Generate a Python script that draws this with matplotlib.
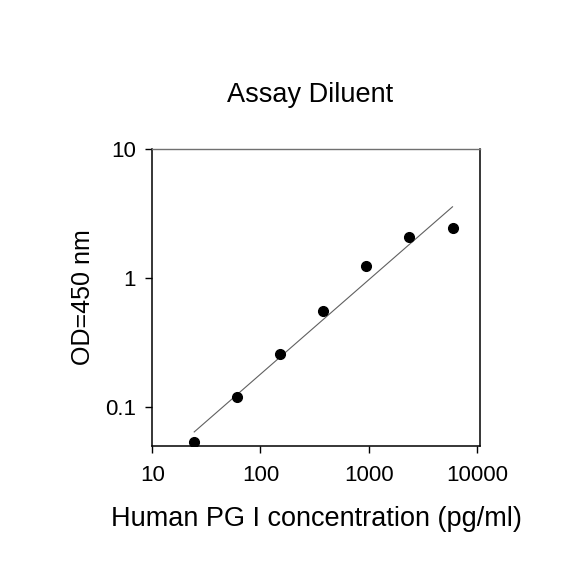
import numpy as np
import matplotlib
matplotlib.use("Agg")
import matplotlib.pyplot as plt
from matplotlib.ticker import FixedLocator, NullLocator, FixedFormatter

plt.rcParams['font.family'] = ['Liberation Sans', 'DejaVu Sans']

# Data
concentration = [24.4, 61.0, 152.6, 381.5, 953.7, 2384.0, 5960.0]   # pg/ml
od450 = [0.054, 0.119, 0.256, 0.553, 1.23, 2.09, 2.45]

x_ticks = [10, 100, 1000, 10000]
x_tick_labels = ["10", "100", "1000", "10000"]
y_ticks = [0.1, 1, 10]
y_tick_labels = ["0.1", "1", "10"]

title = "Assay Diluent"
xlabel = "Human PG I concentration (pg/ml)"
ylabel = "OD=450 nm"

fig = plt.figure(figsize=(5.84, 5.84), dpi=100)
ax = fig.add_axes([0.2608, 0.2368, 0.5611, 0.5081])

ax.set_xscale('log')
ax.set_yscale('log')

# log-log linear regression line
lx = np.log10(concentration)
ly = np.log10(od450)
slope, intercept = np.polyfit(lx, ly, 1)
fx = np.array([lx.min(), lx.max()])
ax.plot(10 ** fx, 10 ** (intercept + slope * fx), color='#606060', lw=0.8, zorder=2)

ax.plot(concentration, od450, 'o', color='black', ms=7, zorder=3)

ax.set_xlim(10, 10700)
ax.set_ylim(0.0502, 10)

ax.xaxis.set_major_locator(FixedLocator(x_ticks))
ax.xaxis.set_major_formatter(FixedFormatter(x_tick_labels))
ax.xaxis.set_minor_locator(NullLocator())
ax.yaxis.set_major_locator(FixedLocator(y_ticks))
ax.yaxis.set_major_formatter(FixedFormatter(y_tick_labels))
ax.yaxis.set_minor_locator(NullLocator())

ax.tick_params(axis='both', direction='out', length=5, width=1, labelsize=16, color='black')
ax.tick_params(axis='x', pad=9)
ax.tick_params(axis='y', pad=7)

for s in ['left', 'bottom', 'right']:
    ax.spines[s].set_linewidth(1.1)
    ax.spines[s].set_color('black')
ax.spines['top'].set_linewidth(1.0)
ax.spines['top'].set_color('#707070')

ax.set_title(title, fontsize=19.5, pad=34, x=0.482)
ax.set_xlabel(xlabel, fontsize=19.5, labelpad=14)
ax.set_ylabel(ylabel, fontsize=18, labelpad=7)

fig.savefig('out.png', dpi=100, facecolor='white')
